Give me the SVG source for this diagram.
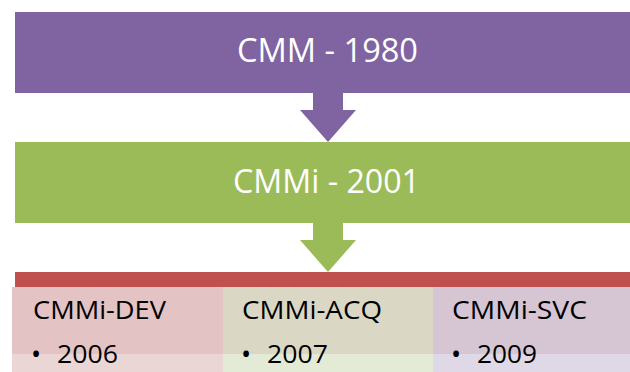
<svg xmlns="http://www.w3.org/2000/svg" width="630" height="372" viewBox="0 0 630 372">
<style>
.t{font-family:"Open Sans","Noto Sans","Liberation Sans",sans-serif;}
.w{fill:#ffffff;font-size:33px;}
.k{fill:#000000;font-size:25px;}
.b{fill:#000000;font-size:27px;}
</style>
<rect width="630" height="372" fill="#ffffff"/>
<g id="connectors">
<polygon points="313,92 343,92 343,110 356,110 328,142 300,110 313,110" fill="#8064A2"/>
<polygon points="313,222 343,222 343,240 356,240 328,272 300,240 313,240" fill="#9BBB59"/>
</g>
<g id="cmm">
<rect x="15" y="12" width="615" height="81" fill="#8064A2"/>
<text class="t w" x="237" y="62" textLength="181" lengthAdjust="spacingAndGlyphs">CMM - 1980</text>
</g>
<g id="cmmi">
<rect x="15" y="142" width="615" height="81" fill="#9BBB59"/>
<text class="t w" x="233" y="193" textLength="187" lengthAdjust="spacingAndGlyphs">CMMi - 2001</text>
</g>
<g id="bar">
<rect x="15" y="272" width="615" height="15" fill="#C0504D"/>
</g>
<g id="dev">
<rect x="12" y="287" width="211" height="67" fill="#E4C3C4"/>
<rect x="12" y="354" width="211" height="18" fill="#EBD6D6"/>
<text class="t k" x="33" y="319" textLength="133" lengthAdjust="spacingAndGlyphs">CMMi-DEV</text>
<text class="t b" x="31" y="364">•</text>
<text class="t k" x="57" y="363" textLength="61" lengthAdjust="spacingAndGlyphs">2006</text>
</g>
<g id="acq">
<rect x="223" y="287" width="210" height="67" fill="#DAD8C4"/>
<rect x="223" y="354" width="210" height="18" fill="#E3EBD7"/>
<text class="t k" x="242" y="319" textLength="140" lengthAdjust="spacingAndGlyphs">CMMi-ACQ</text>
<text class="t b" x="241" y="364">•</text>
<text class="t k" x="267" y="363" textLength="61" lengthAdjust="spacingAndGlyphs">2007</text>
</g>
<g id="svc">
<rect x="433" y="287" width="197" height="67" fill="#D6C5D3"/>
<rect x="433" y="354" width="197" height="18" fill="#DFD9E7"/>
<text class="t k" x="452" y="319" textLength="135" lengthAdjust="spacingAndGlyphs">CMMi-SVC</text>
<text class="t b" x="451" y="364">•</text>
<text class="t k" x="477" y="363" textLength="60" lengthAdjust="spacingAndGlyphs">2009</text>
</g>
</svg>
